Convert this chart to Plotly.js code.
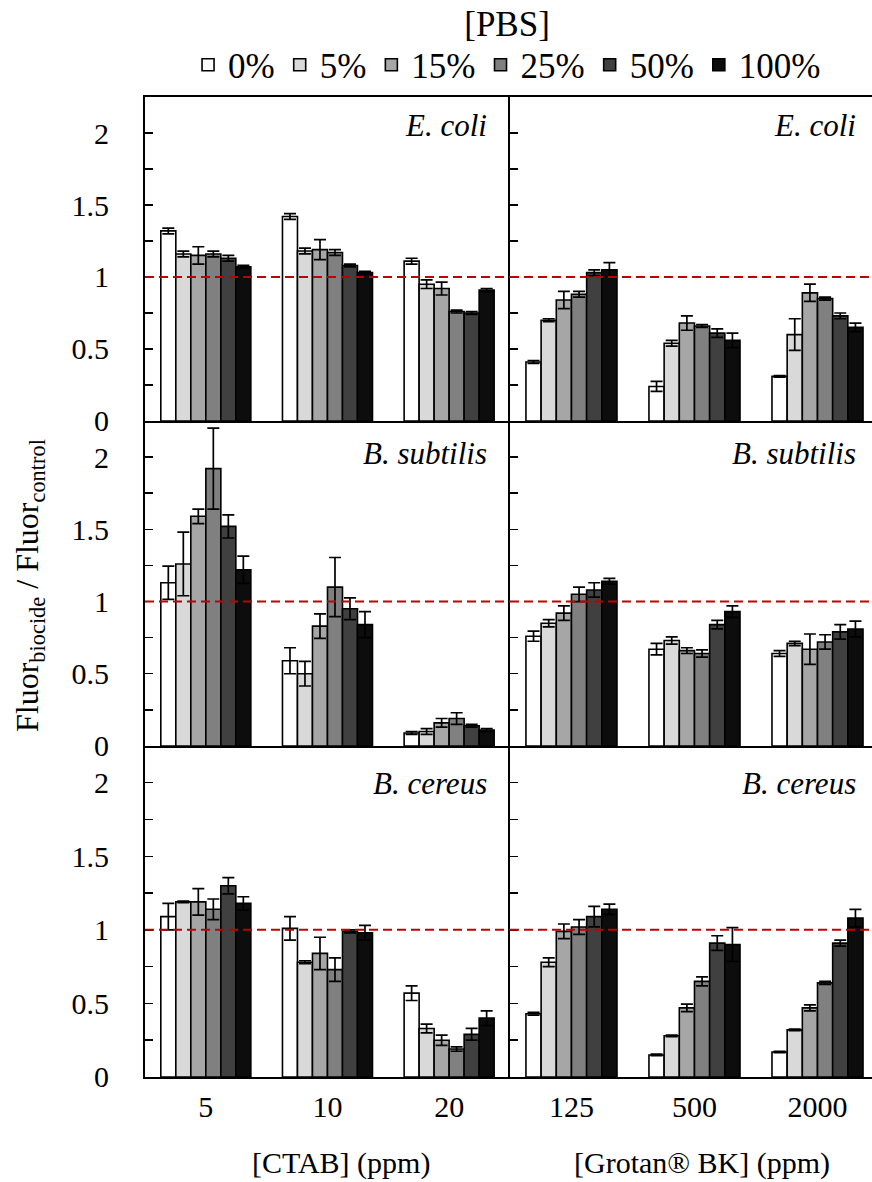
<!DOCTYPE html>
<html>
<head>
<meta charset="utf-8">
<script src="https://cdn.plot.ly/plotly-3.0.1.min.js"></script>
<style>
  html, body { margin: 0; padding: 0; background: #ffffff; }
  #chart { width: 872px; height: 1182px; }
</style>
</head>
<body>
<div id="chart"></div>
<script>
// PBS dilution levels (legend) and their fill shades
const pbsLevels = ['0%', '5%', '15%', '25%', '50%', '100%'];
const pbsColors = ['#ffffff', '#d9d9d9', '#a6a6a6', '#808080', '#404040', '#0d0d0d'];

// Biocide doses (ppm)
const ctabDoses = ['5', '10', '20'];
const grotanDoses = ['125', '500', '2000'];

const species = ['E. coli', 'B. subtilis', 'B. cereus'];

// Fluor_biocide / Fluor_control; one row per PBS level, one column per dose
const ecoliCtab = [
  [1.32, 1.42, 1.11],
  [1.16, 1.18, 0.95],
  [1.15, 1.19, 0.92],
  [1.16, 1.17, 0.76],
  [1.13, 1.08, 0.75],
  [1.07, 1.03, 0.91]
];
const ecoliCtabErr = [
  [0.02, 0.02, 0.02],
  [0.02, 0.02, 0.03],
  [0.06, 0.07, 0.045],
  [0.02, 0.02, 0.01],
  [0.02, 0.01, 0.01],
  [0.01, 0.01, 0.01]
];
const ecoliGrotan = [
  [0.41, 0.24, 0.31],
  [0.70, 0.54, 0.60],
  [0.84, 0.68, 0.89],
  [0.88, 0.66, 0.85],
  [1.03, 0.61, 0.73],
  [1.05, 0.56, 0.65]
];
const ecoliGrotanErr = [
  [0.01, 0.035, 0.005],
  [0.01, 0.02, 0.11],
  [0.06, 0.05, 0.06],
  [0.02, 0.01, 0.01],
  [0.02, 0.03, 0.02],
  [0.05, 0.05, 0.03]
];
const subtilisCtab = [
  [1.13, 0.59, 0.09],
  [1.26, 0.50, 0.10],
  [1.59, 0.83, 0.16],
  [1.92, 1.10, 0.19],
  [1.52, 0.95, 0.14],
  [1.22, 0.84, 0.11]
];
const subtilisCtabErr = [
  [0.115, 0.09, 0.01],
  [0.22, 0.085, 0.02],
  [0.05, 0.085, 0.03],
  [0.28, 0.205, 0.04],
  [0.08, 0.075, 0.01],
  [0.095, 0.09, 0.01]
];
const subtilisGrotan = [
  [0.76, 0.67, 0.64],
  [0.85, 0.73, 0.71],
  [0.92, 0.66, 0.67],
  [1.05, 0.64, 0.72],
  [1.08, 0.84, 0.79],
  [1.14, 0.93, 0.81]
];
const subtilisGrotanErr = [
  [0.035, 0.04, 0.02],
  [0.025, 0.025, 0.015],
  [0.05, 0.02, 0.105],
  [0.05, 0.025, 0.05],
  [0.05, 0.03, 0.05],
  [0.02, 0.04, 0.055]
];
const cereusCtab = [
  [1.09, 1.01, 0.57],
  [1.19, 0.78, 0.33],
  [1.19, 0.84, 0.25],
  [1.14, 0.73, 0.19],
  [1.30, 0.99, 0.29],
  [1.18, 0.98, 0.40]
];
const cereusCtabErr = [
  [0.09, 0.08, 0.05],
  [0.005, 0.01, 0.03],
  [0.09, 0.11, 0.035],
  [0.07, 0.08, 0.015],
  [0.055, 0.01, 0.04],
  [0.045, 0.05, 0.05]
];
const cereusGrotan = [
  [0.43, 0.15, 0.17],
  [0.78, 0.28, 0.32],
  [0.99, 0.47, 0.47],
  [1.02, 0.65, 0.64],
  [1.09, 0.91, 0.91],
  [1.14, 0.90, 1.08]
];
const cereusGrotanErr = [
  [0.01, 0.005, 0.005],
  [0.03, 0.005, 0.005],
  [0.05, 0.025, 0.02],
  [0.05, 0.03, 0.01],
  [0.07, 0.05, 0.02],
  [0.035, 0.115, 0.06]
];

const FONT = 'Liberation Serif, Times New Roman, Times, serif';

// Six panels: rows = species, columns = biocide
const panels = [
  { xa: 'x',  ya: 'y',  doses: ctabDoses,   vals: ecoliCtab,      errs: ecoliCtabErr,      sp: 0, col: 0 },
  { xa: 'x2', ya: 'y2', doses: grotanDoses, vals: ecoliGrotan,    errs: ecoliGrotanErr,    sp: 0, col: 1 },
  { xa: 'x3', ya: 'y3', doses: ctabDoses,   vals: subtilisCtab,   errs: subtilisCtabErr,   sp: 1, col: 0 },
  { xa: 'x4', ya: 'y4', doses: grotanDoses, vals: subtilisGrotan, errs: subtilisGrotanErr, sp: 1, col: 1 },
  { xa: 'x5', ya: 'y5', doses: ctabDoses,   vals: cereusCtab,     errs: cereusCtabErr,     sp: 2, col: 0 },
  { xa: 'x6', ya: 'y6', doses: grotanDoses, vals: cereusGrotan,   errs: cereusGrotanErr,   sp: 2, col: 1 }
];

const traces = [];
panels.forEach((p, pi) => {
  pbsLevels.forEach((lvl, li) => {
    traces.push({
      type: 'bar',
      name: lvl,
      legendgroup: lvl,
      showlegend: pi === 0,
      x: p.doses,
      y: p.vals[li],
      xaxis: p.xa,
      yaxis: p.ya,
      marker: { color: pbsColors[li], line: { color: '#000000', width: 1.6 } },
      error_y: {
        type: 'data', array: p.errs[li], symmetric: true, visible: true,
        color: '#000000', thickness: 1.7, width: 6
      },
      hoverinfo: 'x+y'
    });
  });
});

// Panel geometry (paper fractions)
const colDomains = [[0, 0.502], [0.502, 1]];
const rowDomains = [[0.6694, 1], [0.3378, 0.6694], [0, 0.3378]];
const colRanges = [[-0.5, 2.5], [-0.5, 2.443]];

const layout = {
  width: 872,
  height: 1182,
  margin: { l: 145, r: 0, t: 97, b: 105, pad: 0, autoexpand: false },
  paper_bgcolor: '#ffffff',
  plot_bgcolor: '#ffffff',
  font: { family: FONT, size: 30, color: '#000000' },
  barmode: 'group',
  bargap: 0.26,
  bargroupgap: 0,
  showlegend: true,
  legend: {
    orientation: 'h',
    x: 0.498, xanchor: 'center',
    y: 1.003, yanchor: 'bottom',
    font: { family: FONT, size: 35, color: '#000000' },
    title: { text: '[PBS]', side: 'top center', font: { family: FONT, size: 35, color: '#000000' } },
    traceorder: 'normal',
    itemwidth: 30,
    bgcolor: 'rgba(0,0,0,0)'
  },
  shapes: [],
  annotations: []
};

panels.forEach((p, pi) => {
  const xKey = p.xa === 'x' ? 'xaxis' : 'xaxis' + p.xa.slice(1);
  const yKey = p.ya === 'y' ? 'yaxis' : 'yaxis' + p.ya.slice(1);
  const isBottom = p.sp === 2;
  // frame: each row draws its bottom edge, the top row also the top edge;
  // each panel draws its left edge, so shared edges are drawn once
  layout[xKey] = {
    domain: colDomains[p.col],
    anchor: p.ya,
    type: 'category',
    range: colRanges[p.col],
    showline: true, linecolor: '#000000', linewidth: 2, mirror: p.sp === 0,
    ticks: '',
    showticklabels: isBottom,
    tickfont: { family: FONT, size: 30, color: '#000000' },
    ticklabelstandoff: 2,
    showgrid: false, zeroline: false, fixedrange: true
  };
  layout[yKey] = {
    domain: rowDomains[p.sp],
    anchor: p.xa,
    range: [0, 2.25],
    tick0: 0, dtick: 0.5,
    ticks: 'inside', ticklen: 8, tickwidth: 1.5, tickcolor: '#000000',
    minor: { tick0: 0, dtick: 0.25, ticks: 'inside', ticklen: 8, tickwidth: 1.5, tickcolor: '#000000', showgrid: false },
    showticklabels: p.col === 0,
    tickfont: { family: FONT, size: 30, color: '#000000' },
    ticklabelstandoff: 28,
    showline: true, linecolor: '#000000', linewidth: 2, mirror: false,
    showgrid: false, zeroline: false, fixedrange: true
  };

  // control reference level
  layout.shapes.push({
    type: 'line', layer: 'above',
    xref: p.xa + ' domain', x0: 0, x1: 1,
    yref: p.ya, y0: 1, y1: 1,
    line: { color: '#c00000', width: 2, dash: '9px,5px' }
  });

  // species name in the upper right corner
  const yShifts = [-9, -13, -18];
  layout.annotations.push({
    xref: p.xa + ' domain', x: 1, xanchor: 'right', xshift: p.col === 0 ? -21 : -14,
    yref: p.ya + ' domain', y: 1, yanchor: 'top', yshift: yShifts[p.sp],
    text: '<i>' + species[p.sp] + '</i>',
    showarrow: false,
    font: { family: FONT, size: 31, color: '#000000' }
  });
});

// axis titles
layout.annotations.push({
  xref: 'paper', x: 0.2696, xanchor: 'center',
  yref: 'paper', y: -0.0878, yanchor: 'middle',
  text: '[CTAB] (ppm)', showarrow: false,
  font: { family: FONT, size: 30, color: '#000000' }
});
layout.annotations.push({
  xref: 'paper', x: 0.766, xanchor: 'center',
  yref: 'paper', y: -0.0878, yanchor: 'middle',
  text: '[Grotan® BK] (ppm)', showarrow: false,
  font: { family: FONT, size: 30, color: '#000000' }
});
layout.annotations.push({
  xref: 'paper', x: -0.1596, xanchor: 'center',
  yref: 'paper', y: 0.502, yanchor: 'middle',
  textangle: -90,
  text: 'Fluor<sub>biocide</sub> / Fluor<sub>control</sub>', showarrow: false,
  font: { family: FONT, size: 32, color: '#000000' }
});

Plotly.newPlot('chart', traces, layout, { staticPlot: true, displayModeBar: false });
</script>
</body>
</html>
